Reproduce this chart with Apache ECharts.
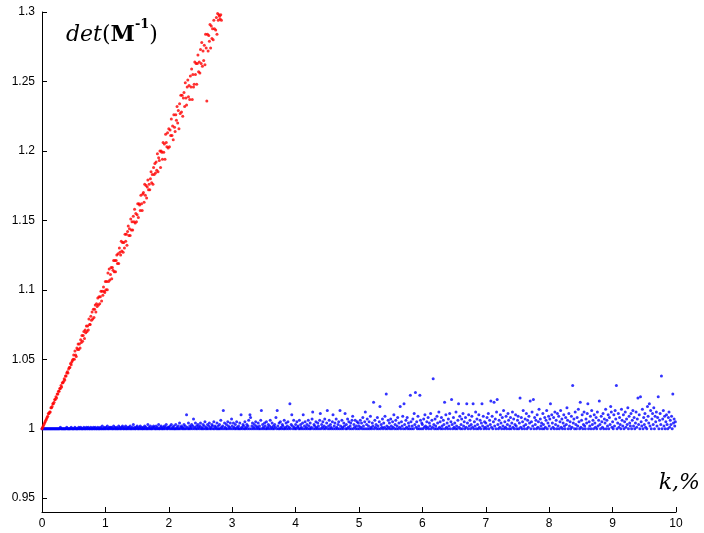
<!DOCTYPE html>
<html>
<head>
<meta charset="utf-8">
<script src="https://cdn.jsdelivr.net/npm/echarts@6/dist/echarts.min.js"></script>
<style>
html,body{margin:0;padding:0;background:#fff;}
#chart{width:704px;height:533px;}
</style>
</head>
<body>
<div id="chart"></div>
<script>
// k grid: samples every 0.01 %, segment start values
const kStep = 0.01;
const xTicks = [0,1,2,3,4,5,6,7,8,9,10];
const yTicks = [0.95,1,1.05,1.1,1.15,1.2,1.25,1.3];

// red series (det grows), k = 0.00 .. 2.85
const red0 = [1.000,1.001,1.002,1.003,1.004,1.005,1.006,1.007,1.008,1.009,
1.011,1.011,1.012,1.012,1.015,1.015,1.016,1.018,1.018,1.019,
1.021,1.021,1.023,1.022,1.025,1.025,1.027,1.027,1.029,1.029,
1.031,1.030,1.033,1.033,1.034,1.036,1.035,1.038,1.038,1.040,
1.041,1.040,1.043,1.044,1.044,1.047,1.046,1.048,1.049,1.050,
1.053,1.050,1.056,1.053,1.052,1.058,1.057,1.061,1.057,1.061,
1.058,1.064,1.062,1.067,1.063,1.067,1.070,1.065,1.071,1.069,
1.074,1.070,1.074,1.071,1.079,1.075,1.075,1.081,1.078,1.084,
1.079,1.086,1.080,1.086,1.089,1.084,1.090,1.088,1.094,1.089,
1.095,1.090,1.095,1.099,1.092,1.099,1.096,1.102,1.099,1.098];
const red1 = [1.106,1.100,1.106,1.100,1.112,1.106,1.115,1.107,1.111,1.116,
1.108,1.116,1.114,1.121,1.113,1.121,1.113,1.121,1.125,1.119,
1.126,1.119,1.130,1.127,1.125,1.135,1.128,1.134,1.127,1.134,
1.130,1.140,1.135,1.140,1.132,1.142,1.146,1.139,1.144,1.139,
1.151,1.143,1.149,1.143,1.153,1.149,1.158,1.148,1.155,1.149,
1.154,1.162,1.152,1.162,1.161,1.157,1.168,1.162,1.157,1.169,
1.170,1.163,1.176,1.168,1.175,1.166,1.174,1.179,1.172,1.176,
1.172,1.180,1.185,1.177,1.183,1.176,1.188,1.183,1.191,1.184,
1.192,1.186,1.198,1.185,1.195,1.193,1.200,1.188,1.200,1.199,
1.194,1.206,1.199,1.205,1.194,1.212,1.206,1.203,1.213,1.202];
const red2 = [1.216,1.203,1.215,1.211,1.223,1.211,1.218,1.208,1.226,1.217,
1.214,1.226,1.222,1.232,1.220,1.229,1.216,1.234,1.227,1.240,
1.228,1.240,1.225,1.238,1.242,1.232,1.249,1.238,1.233,1.246,
1.251,1.239,1.247,1.237,1.254,1.246,1.259,1.237,1.255,1.246,
1.248,1.264,1.255,1.263,1.248,1.263,1.269,1.257,1.264,1.256,
1.273,1.263,1.278,1.261,1.272,1.265,1.276,1.262,1.284,1.274,
1.236,1.284,1.272,1.283,1.279,1.291,1.274,1.290,1.281,1.288,
1.280,1.294,1.288,1.301,1.287,1.296,1.284,1.299,1.294,1.298,
1.297,1.295,1.298,1.294,1.307,1.301];

// blue series (det stays near 1), k = 0.00 .. 9.99
const blue0 = [1,1,1,1,1,1,1,1,1,1,
1,1,1,1,1,1,1,1,1,1,
1,1,1,1,1,1,1,1,1,1.001,
1,1,1,1,1,1,1,1,1,1.001,
1,1,1,1,1,1,1.001,1,1,1,
1,1,1.001,1,1,1,1,1,1.001,1,
1,1.001,1,1,1,1,1.001,1,1,1,
1.001,1,1,1.001,1,1,1,1.001,1,1,
1,1.001,1,1,1.001,1,1,1,1.001,1,
1,1,1.001,1,1,1.002,1,1,1.001,1];
const blue1 = [1,1.001,1,1.002,1,1,1.001,1,1.001,1,
1.001,1,1,1.002,1,1.001,1,1,1.001,1,
1,1.002,1,1.001,1,1,1.001,1.002,1,1,
1.001,1,1.002,1,1,1.001,1,1.001,1,1.002,
1,1,1.001,1,1.003,1,1.001,1,1,1.001,
1.002,1,1,1.001,1,1.002,1,1.001,1,1,
1.001,1,1.002,1,1.001,1,1,1.003,1,1.001,
1,1.002,1,1,1.001,1,1.002,1.001,1,1,
1.002,1,1.001,1,1.003,1,1,1.001,1.002,1,
1,1.001,1,1.002,1,1.001,1.003,1,1,1.001];
const blue2 = [1.001,1,1.002,1,1.003,1,1.001,1,1.002,1,
1,1.003,1,1.001,1,1.002,1,1.004,1,1.001,
1.002,1,1.001,1,1.003,1,1.002,1,1.010,1.001,
1,1.004,1,1.002,1,1.001,1.003,1,1.002,1.007,
1,1.001,1.004,1,1.002,1,1.003,1.001,1,1.002,
1.004,1,1.001,1,1.003,1,1.002,1.005,1,1.001,
1,1.003,1,1.002,1.004,1,1.001,1,1.003,1.002,
1,1.005,1,1.002,1.001,1,1.004,1,1.002,1,
1.003,1,1.006,1.001,1,1.002,1.013,1,1.004,1.001,
1,1.003,1,1.005,1.002,1,1.001,1.004,1,1.007];
const blue3 = [1.002,1,1.004,1.001,1,1.003,1,1.005,1.001,1,
1.002,1,1.004,1,1.010,1.001,1,1.003,1.002,1,
1.005,1,1.001,1.003,1,1.002,1.006,1,1.010,1.008,
1,1.002,1.004,1,1.001,1.003,1,1.005,1.002,1,
1.001,1.004,1,1.002,1,1.006,1.013,1,1.003,1.001,
1,1.004,1.002,1,1.005,1,1.001,1.003,1,1.002,
1.006,1,1.001,1.004,1,1.002,1,1.003,1.001,1.008,
1,1.013,1.002,1,1.004,1,1.005,1.001,1,1.003,
1.002,1,1.006,1,1.001,1.004,1,1.002,1.005,1,
1.001,1.018,1,1.003,1.010,1.002,1,1.006,1.001,1];
const blue4 = [1.003,1,1.005,1.001,1.002,1,1.006,1,1.003,1.001,
1,1.004,1.010,1,1.002,1.005,1,1.001,1.003,1,
1.006,1.002,1,1.004,1,1.001,1.007,1.012,1,1.003,
1.002,1,1.005,1.001,1,1.004,1.002,1,1.006,1.011,
1,1.003,1.001,1.005,1,1.002,1.007,1,1.001,1.004,
1.013,1,1.002,1.006,1,1.003,1.001,1,1.005,1.010,
1,1.002,1.004,1,1.007,1.001,1,1.003,1.005,1,
1.013,1.002,1,1.006,1.001,1,1.004,1.002,1.011,1,
1.003,1,1.007,1.001,1.005,1,1.002,1.004,1,1.006,
1.009,1,1.003,1.001,1.006,1,1.002,1.005,1,1.004];
const blue5 = [1.002,1,1.006,1.001,1.004,1,1.008,1.002,1,1.005,
1.012,1,1.003,1.007,1,1.002,1.005,1,1.009,1.001,
1,1.004,1.002,1.019,1,1.006,1.001,1.003,1,1.008,
1.002,1,1.005,1.016,1,1.003,1.001,1.007,1,1.004,
1.001,1.009,1,1.025,1.002,1,1.006,1.001,1.004,1,
1.007,1.002,1,1.005,1.001,1.010,1,1.003,1.006,1,
1.002,1.008,1,1.004,1.001,1.016,1,1.005,1.002,1.009,
1,1.018,1.003,1,1.006,1.001,1.008,1,1.004,1.002,
1,1.024,1.005,1,1.002,1.007,1,1.011,1.003,1.026,
1.001,1.005,1,1.009,1.002,1,1.024,1.006,1,1.004];
const blue6 = [1.003,1,1.007,1.001,1.010,1.002,1,1.005,1.001,1.008,
1,1.004,1.002,1.011,1,1.006,1.001,1.036,1.003,1,
1.007,1.002,1,1.009,1.004,1,1.012,1.001,1.005,1,
1.008,1.002,1,1.006,1.003,1.019,1,1.010,1.001,1.004,
1,1.007,1.002,1.011,1,1.005,1.021,1.003,1,1.008,
1.001,1.004,1,1.012,1.002,1,1.006,1.018,1.001,1.009,
1,1.003,1.007,1,1.011,1.002,1.005,1,1.008,1.001,
1.018,1.004,1,1.010,1.002,1.006,1,1.003,1.009,1.001,
1.018,1,1.005,1.002,1.012,1,1.007,1.003,1,1.010,
1.001,1.006,1,1.004,1.018,1.002,1.009,1,1.005,1.001];
const blue7 = [1.004,1,1.008,1.002,1.011,1,1.006,1.003,1.020,1.001,
1.009,1,1.005,1.019,1.002,1.007,1,1.012,1.021,1.003,
1,1.006,1.001,1.010,1.004,1,1.008,1.002,1.013,1,
1.005,1.001,1.009,1,1.003,1.011,1.006,1,1.002,1.008,
1,1.004,1.012,1.001,1.007,1,1.003,1.010,1.002,1,
1.006,1.009,1,1.004,1.022,1.001,1.008,1,1.005,1.013,
1.002,1,1.007,1.003,1.011,1,1.006,1.001,1.009,1.004,
1.020,1,1.005,1.012,1.002,1.021,1,1.008,1.003,1.006,
1,1.010,1.001,1.005,1.014,1,1.007,1.002,1.004,1,
1.011,1.003,1,1.008,1.001,1.006,1.013,1,1.004,1.009];
const blue8 = [1.002,1.007,1.018,1,1.010,1.004,1.001,1.008,1,1.012,
1.003,1.006,1,1.011,1.002,1.009,1,1.005,1.013,1.001,
1.007,1,1.004,1.010,1.002,1,1.008,1.003,1.015,1.006,
1,1.011,1.002,1.005,1,1.009,1.001,1.031,1.004,1.007,
1,1.012,1.003,1,1.008,1.002,1.014,1.005,1,1.019,
1.001,1.006,1.010,1,1.003,1.012,1.002,1,1.007,1.004,
1.011,1.018,1,1.005,1.002,1.009,1,1.013,1.003,1.006,
1,1.010,1.004,1.001,1.008,1,1.012,1.002,1.006,1.020,
1.003,1,1.009,1.005,1.001,1.011,1,1.007,1.004,1.014,
1,1.006,1.002,1.010,1,1.008,1.003,1.016,1.012,1.001];
const blue9 = [1.005,1,1.010,1.002,1.013,1.007,1.031,1,1.004,1.011,
1.001,1.008,1.003,1,1.014,1.006,1.002,1.010,1,1.005,
1.012,1.001,1.007,1.003,1.015,1,1.009,1.004,1.002,1.011,
1,1.006,1.013,1.002,1.008,1,1.004,1.012,1.001,1.007,
1.022,1.003,1.010,1,1.023,1.005,1.002,1.014,1,1.008,
1.003,1.011,1.001,1.006,1,1.016,1.009,1.004,1.018,1.002,
1.013,1,1.007,1.011,1.003,1.015,1,1.009,1.005,1.012,
1.002,1.008,1.023,1,1.006,1.011,1.003,1.038,1,1.007,
1.013,1.002,1.009,1,1.005,1.010,1.003,1,1.008,1.012,
1.001,1.006,1.003,1.009,1,1.025,1.004,1.007,1.002,1.005];

function seg(start, vals) {
  return vals.map((v, i) => [+(start + i * kStep).toFixed(2), v]);
}
const redData = [].concat(seg(0, red0), seg(1, red1), seg(2, red2));
const blueData = [].concat(seg(0, blue0), seg(1, blue1), seg(2, blue2), seg(3, blue3),
  seg(4, blue4), seg(5, blue5), seg(6, blue6), seg(7, blue7), seg(8, blue8), seg(9, blue9));

const chart = echarts.init(document.getElementById('chart'), null, {renderer: 'canvas'});
const labelFont = {color: '#000', fontFamily: 'Liberation Sans, Arial, sans-serif', fontSize: 12};
const serif = 'DejaVu Serif';
chart.setOption({
  animation: false,
  backgroundColor: '#fff',
  grid: {left: 42, right: 28, top: 12, bottom: 21, containLabel: false},
  title: {
    left: 61, top: 13,
    text: '{i|det}{n|(}{b|M}{s|-1}{n|)}',
    textStyle: {
      fontWeight: 'normal',
      rich: {
        i: {fontFamily: serif, fontStyle: 'italic', fontWeight: 'normal', fontSize: 22, color: '#000', lineHeight: 28, verticalAlign: 'bottom'},
        n: {fontFamily: serif, fontWeight: 'normal', fontSize: 22, color: '#000', lineHeight: 28, verticalAlign: 'bottom'},
        b: {fontFamily: serif, fontWeight: 'bold', fontSize: 22, color: '#000', lineHeight: 28, verticalAlign: 'bottom'},
        s: {fontFamily: serif, fontWeight: 'bold', fontSize: 13, color: '#000', lineHeight: 28, verticalAlign: 'top'}
      }
    }
  },
  graphic: [{
    type: 'text', right: 4, top: 472,
    style: {text: 'k,%', font: 'italic 22px "DejaVu Serif"', fill: '#000'}
  }],
  xAxis: {
    type: 'value', min: 0, max: 10, interval: 1,
    axisLine: {show: true, lineStyle: {color: '#000', width: 1}},
    axisTick: {show: true, inside: true, length: 5, lineStyle: {color: '#000'}},
    axisLabel: Object.assign({margin: 6, customValues: xTicks}, labelFont),
    splitLine: {show: false}
  },
  yAxis: {
    type: 'value', min: 0.94, max: 1.3,
    axisLine: {show: true, lineStyle: {color: '#000', width: 1}},
    axisTick: {show: true, inside: true, length: 5, customValues: yTicks, lineStyle: {color: '#000'}},
    axisLabel: Object.assign({margin: 7, customValues: yTicks, formatter: v => String(+(+v).toFixed(2))}, labelFont),
    splitLine: {show: false}
  },
  series: [
    {type: 'scatter', name: 'blue', data: blueData, symbol: 'circle', symbolSize: 3,
     itemStyle: {color: '#0000ff'}, silent: true},
    {type: 'scatter', name: 'red', data: redData, symbol: 'circle', symbolSize: 3,
     itemStyle: {color: '#ff0000'}, silent: true}
  ]
});
</script>
</body>
</html>
